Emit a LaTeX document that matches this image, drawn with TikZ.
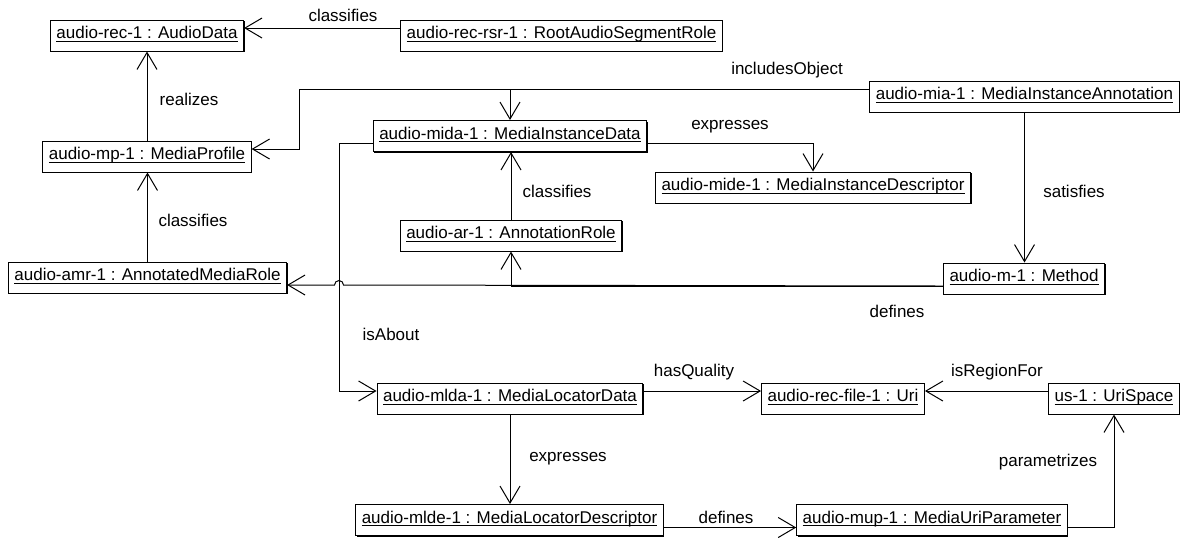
\documentclass[tikz,border=0pt]{standalone}
\usepackage{fontspec}
\setmainfont{Liberation Sans}
\usetikzlibrary{arrows.meta,shadows}

\newcommand{\objname}[1]{\underline{\smash{#1}}}
\newlength{\linkshift}
\setlength{\linkshift}{3.75pt}

\tikzset{
    obj/.style={draw, fill=white, line width=0.5pt, inner xsep=3pt, inner ysep=0pt,
        minimum height=15.5pt, text height=6pt, text depth=3pt,
        font=\fontsize{8.5}{10}\selectfont,
        drop shadow={shadow xshift=0.5pt, shadow yshift=-0.5pt, fill=black, opacity=1}},
    lbl/.style={inner sep=0pt, font=\fontsize{8.5}{10}\selectfont},
    rel/.style={line width=0.5pt, -{Straight Barb[length=8.5pt,width=10pt]}}
}

\begin{document}
\begin{tikzpicture}[x=0.5pt,y=-0.5pt]
            \useasboundingbox[fill=white] (0,0) rectangle (1189,538);

            \node[obj] (rec) at (147,35.5) {\objname{audio-rec-1 : AudioData}};
            \node[obj] (rsr) at (561.5,35.5) {\objname{audio-rec-rsr-1 : RootAudioSegmentRole}};
            \node[obj] (mia) at (1024.5,96.5) {\objname{audio-mia-1 : MediaInstanceAnnotation}};
            \node[obj] (mida) at (510,136) {\objname{audio-mida-1 : MediaInstanceData}};
            \node[obj] (mp) at (147,156.5) {\objname{audio-mp-1 : MediaProfile}};
            \node[obj] (mide) at (813,187.5) {\objname{audio-mide-1 : MediaInstanceDescriptor}};
            \node[obj] (ar) at (511,235.5) {\objname{audio-ar-1 : AnnotationRole}};
            \node[obj] (amr) at (147.5,277.5) {\objname{audio-amr-1 : AnnotatedMediaRole}};
            \node[obj] (m) at (1024,278.5) {\objname{audio-m-1 : Method}};
            \node[obj] (mlda) at (510,398.5) {\objname{audio-mlda-1 : MediaLocatorData}};
            \node[obj] (recfile) at (843,398.5) {\objname{audio-rec-file-1 : Uri}};
            \node[obj] (us) at (1114,398.5) {\objname{us-1 : UriSpace}};
            \node[obj] (mlde) at (509.5,520) {\objname{audio-mlde-1 : MediaLocatorDescriptor}};
            \node[obj] (mup) at (932,520) {\objname{audio-mup-1 : MediaUriParameter}};

            \coordinate (inclbend) at (299,89);
            \coordinate (aboutbend) at (339,143.5);
            \coordinate (hop) at (339,285);

            \draw[rel] ([yshift=\linkshift]rsr.west) -- ([yshift=\linkshift]rec.east)
                node[lbl] at (343,15) {classifies};
            \draw[rel] (mp.north) -- (rec.south)
                node[lbl] at (189,99.5) {realizes};
            \draw[rel] (amr.north) -- (amr.north |- mp.south)
                node[lbl] at (193,220) {classifies};
            \draw[rel] ([yshift=\linkshift]mia.west) -- (inclbend) |- ([yshift=\linkshift]mp.east)
                node[lbl] at (787,70) {includesObject};
            \draw[rel] ([yshift=\linkshift]mia.west) -| (mida.north);
            \draw[rel] ([yshift=-\linkshift]mida.east) -| (mide.north)
                node[lbl] at (730,127) {expresses};
            \draw[rel] (ar.north) -- (ar.north |- mida.south)
                node[lbl] at (557,191) {classifies};
            \draw[rel] (mia.south) -- (mia.south |- m.north)
                node[lbl] at (1074,191) {satisfies};
            \draw[rel] ([yshift=-\linkshift]m.west) -| (ar.south)
                node[lbl] at (897,311) {defines};
            \draw[rel] ([yshift=-\linkshift]m.west) -- ([xshift=2.25pt]hop)
                arc[start angle=0, end angle=180, radius=2.25pt] -- ([yshift=-\linkshift]amr.east);
            \draw[rel] ([yshift=-\linkshift]mida.west) -- (aboutbend) |- ([yshift=\linkshift]mlda.west)
                node[lbl] at (391,334) {isAbout};
            \draw[rel] ([yshift=\linkshift]mlda.east) -- ([yshift=\linkshift]recfile.west)
                node[lbl] at (694,372) {hasQuality};
            \draw[rel] ([yshift=\linkshift]us.west) -- ([yshift=\linkshift]recfile.east)
                node[lbl] at (997,372) {isRegionFor};
            \draw[rel] (mlda.south) -- (mlda.south |- mlde.north)
                node[lbl] at (568,459) {expresses};
            \draw[rel] ([yshift=-\linkshift]mlde.east) -- ([yshift=-\linkshift]mup.west)
                node[lbl] at (726,517) {defines};
            \draw[rel] ([yshift=-\linkshift]mup.east) -| (us.south)
                node[lbl] at (1048,462) {parametrizes};
\end{tikzpicture}
\end{document}
